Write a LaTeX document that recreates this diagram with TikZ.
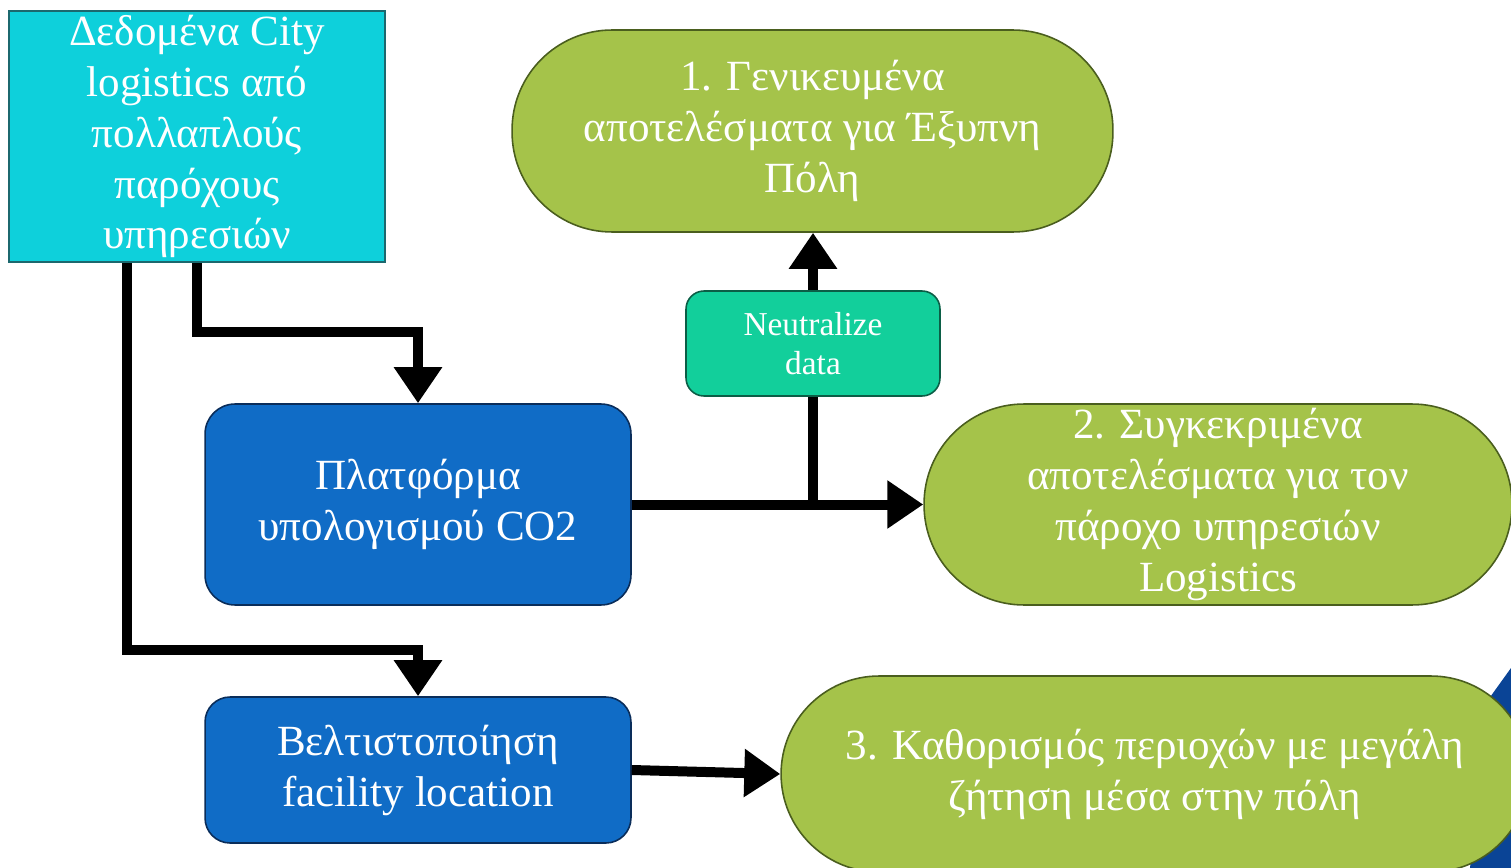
\documentclass[tikz,border=0pt]{standalone}
\usepackage{fontspec}
\setmainfont{Liberation Serif}
\usetikzlibrary{arrows.meta,calc}
\definecolor{cyanbox}{RGB}{14,208,219}
\definecolor{cyanedge}{RGB}{28,104,110}
\definecolor{bluebox}{RGB}{16,108,198}
\definecolor{blueedge}{RGB}{10,45,90}
\definecolor{greenbox}{RGB}{165,195,74}
\definecolor{greenedge}{RGB}{74,94,30}
\definecolor{tealbox}{RGB}{18,207,155}
\definecolor{tealedge}{RGB}{11,94,70}
\definecolor{deepblue}{RGB}{10,68,150}
\tikzset{
  base/.style={inner sep=0pt, align=center, text=white,
    font=\fontsize{24.5}{29}\selectfont},
  srcbox/.style={base, draw=cyanedge, fill=cyanbox, line width=0.9pt},
  bluebx/.style={base, draw=blueedge, fill=bluebox, line width=0.9pt, rounded corners=0.6cm},
  stadium/.style={base, draw=greenedge, fill=greenbox, line width=0.9pt, rounded corners=2cm},
  neubox/.style={base, draw=tealedge, fill=tealbox, line width=0.9pt, rounded corners=0.36cm,
    font=\fontsize{19}{22}\selectfont},
  conn/.style={line width=0.2cm, line join=miter, draw=black},
  arr/.style={conn, -{Triangle[length=0.72cm, width=0.92cm]}},
}
\begin{document}
\begin{tikzpicture}[x=0.02cm, y=-0.02cm]
\useasboundingbox (0,0) rectangle (1511,868);
\fill[white] (0,0) rectangle (1511,868);
\fill[deepblue] (1488,700) -- (1511,668) -- (1511,868) -- (1470,868) -- cycle;

\node[srcbox, minimum width=7.52cm, minimum height=5.02cm] (src) at (197,136.5)
  {Δεδομένα City\\logistics από\\πολλαπλούς\\παρόχους\\υπηρεσιών};
\node[bluebx, minimum width=8.52cm, minimum height=4.02cm] (plat) at (418,504.5)
  {Πλατφόρμα\\υπολογισμού CO2};
\node[bluebx, minimum width=8.52cm, minimum height=2.92cm, rounded corners=0.5cm] (opt) at (418,770)
  {Βελτιστοποίηση\\facility location};
\node[stadium, minimum width=12.02cm, minimum height=4.04cm] (r1) at (812.5,131)
  {1. Γενικευμένα\\αποτελέσματα για Έξυπνη\\Πόλη};
\node[stadium, minimum width=11.76cm, minimum height=4.02cm] (r2) at (1218,504.5)
  {2. Συγκεκριμένα\\αποτελέσματα για τον\\πάροχο υπηρεσιών\\Logistics};
\node[stadium, minimum width=14.96cm, minimum height=3.92cm, rounded corners=1.96cm] (r3) at (1155,774)
  {3. Καθορισμός περιοχών με μεγάλη\\ζήτηση μέσα στην πόλη};
\node[neubox, minimum width=5.08cm, minimum height=2.1cm] (neu) at (813,343.5)
  {Neutralize\\data};

\draw[arr] (src.south) -- ++(0,69) -| (plat.north);
\draw[arr] ([xshift=2.38cm]src.south west) -- ++(0,387) -| (opt.north);
\draw[arr] (plat.east) -- (r2.west);
\draw[conn] (neu.south |- plat.east) -- (neu.south);
\draw[arr] (neu.north) -- (neu.north |- r1.south);
\draw[arr] (opt.east) -- (r3.west);
\end{tikzpicture}
\end{document}
